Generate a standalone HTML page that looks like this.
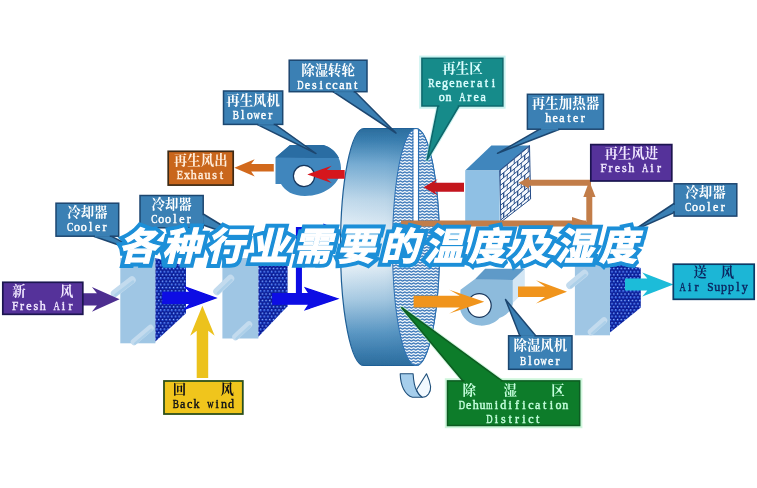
<!DOCTYPE html>
<html><head><meta charset="utf-8"><title>diagram</title>
<style>
html,body{margin:0;padding:0;background:#fff;}
body{width:757px;height:488px;overflow:hidden;}
svg{display:block;}
text{font-family:"Liberation Serif",serif;}
text.cjk{font-family:"Liberation Serif","Noto Serif CJK SC",serif;font-weight:bold;font-size:13.4px;}
text.ttl{font-family:"Liberation Sans","Noto Sans CJK SC",sans-serif;font-weight:bold;font-style:italic;font-size:38px;}
</style></head><body>
<svg width="757" height="488" viewBox="0 0 757 488" role="img" aria-label="各种行业需要的温度及湿度 - desiccant dehumidifier airflow diagram">
<defs><filter id="soft" x="-2%" y="-2%" width="104%" height="104%"><feGaussianBlur stdDeviation="0.4"/></filter></defs>
<g filter="url(#soft)">
<defs>
<linearGradient id="drumg" x1="0" y1="0" x2="0" y2="1">
 <stop offset="0" stop-color="#2a6c9c"/><stop offset="0.05" stop-color="#3b7fb0"/>
 <stop offset="0.15" stop-color="#78add3"/><stop offset="0.3" stop-color="#c0d9eb"/>
 <stop offset="0.45" stop-color="#eef5fa"/><stop offset="0.58" stop-color="#e6f0f7"/>
 <stop offset="0.72" stop-color="#a9cbe3"/><stop offset="0.86" stop-color="#5c98c4"/>
 <stop offset="0.95" stop-color="#3a7bac"/><stop offset="1" stop-color="#2c6c9c"/>
</linearGradient>
<linearGradient id="drumh" x1="0" y1="0" x2="1" y2="0">
 <stop offset="0" stop-color="#2d72a6" stop-opacity="0"/><stop offset="0.45" stop-color="#2d72a6" stop-opacity="0.05"/>
 <stop offset="1" stop-color="#2d72a6" stop-opacity="0.38"/>
</linearGradient>
<pattern id="wave" width="4.4" height="3" patternUnits="userSpaceOnUse">
 <rect width="4.4" height="3" fill="#f3f8fc"/>
 <path d="M-0.6,0.3 L0,0.75 L2.2,2.3 L4.4,0.75 L5,0.3" fill="none" stroke="#2f6fb5" stroke-width="1.05" stroke-linejoin="round"/>
</pattern>
<radialGradient id="sph" cx="0.36" cy="0.34" r="0.7">
 <stop offset="0" stop-color="#b4ccff"/><stop offset="0.3" stop-color="#325fe0"/><stop offset="1" stop-color="#0c24a4"/>
</radialGradient>
<pattern id="dots" width="3.7" height="6.4" patternUnits="userSpaceOnUse">
 <rect width="3.7" height="6.4" fill="#061080"/>
 <circle cx="0" cy="0" r="1.6" fill="url(#sph)"/><circle cx="3.7" cy="0" r="1.6" fill="url(#sph)"/>
 <circle cx="1.85" cy="3.2" r="1.6" fill="url(#sph)"/>
 <circle cx="0" cy="6.4" r="1.6" fill="url(#sph)"/><circle cx="3.7" cy="6.4" r="1.6" fill="url(#sph)"/>
</pattern>
<pattern id="brick" width="7" height="10" patternUnits="userSpaceOnUse" patternTransform="translate(499.7 170.4) skewY(-39.8)">
 <rect width="7" height="10" fill="#f6f9fd"/>
 <path d="M0,0.5H7M0,5.5H7M0.5,0.5V5.5M4,5.5V10.5" fill="none" stroke="#234a86" stroke-width="1.1"/>
</pattern>
</defs>
<path d="M364.0,128.5 L416.0,128.5 A23.5,118.5 0 0 1 416.0,365.5 L364.0,365.5 A23.5,118.5 0 0 1 364.0,128.5 Z" fill="url(#drumg)" stroke="#1f5f96" stroke-width="1.2"/>
<path d="M364.0,128.5 L416.0,128.5 A23.5,118.5 0 0 1 416.0,365.5 L364.0,365.5 A23.5,118.5 0 0 1 364.0,128.5 Z" fill="url(#drumh)"/>
<ellipse cx="416.0" cy="247.0" rx="23.5" ry="118.5" fill="url(#wave)" stroke="#2b6fb3" stroke-width="1"/>
<path d="M413,129 L413,226 M418.5,129 L418.5,226" stroke="#2b6fb3" stroke-width="1.2" fill="none"/>
<rect x="413.6" y="129.5" width="4.3" height="96" fill="#fff"/>
<path d="M400.2,373.7 L413.1,373.7 C413.5,381 414.5,387 417,391.5 C418.5,394 420,396 422.5,397.3 L412.5,397.3 C405,395 400.5,386 400.2,373.7 Z" fill="#a6ceec" stroke="#1f4f7a" stroke-width="1.1" stroke-linejoin="round"/>
<path d="M426.5,373.8 L416.5,389.8 C418,393.5 420,396 422.5,397.3 C427.5,397.3 431,392 430.6,386.5 C430,382 428.5,378 426.5,373.8 Z" fill="#f2f9ff" stroke="#1f4f7a" stroke-width="1.1" stroke-linejoin="round"/>
<rect x="120.3" y="258.0" width="35.1" height="85.3" fill="#9fc6e4" stroke="none" stroke-width="0.0" /><line x1="114.5" y1="293.5" x2="132.0" y2="280.0" stroke="#c3dbee" stroke-width="7.5" stroke-linecap="round"/><line x1="115.5" y1="295.1" x2="133.0" y2="281.6" stroke="#add0e9" stroke-width="2.6" stroke-linecap="round"/><line x1="134.0" y1="342.0" x2="150.5" y2="328.0" stroke="#c3dbee" stroke-width="6.5" stroke-linecap="round"/><line x1="135.0" y1="343.6" x2="151.5" y2="329.6" stroke="#add0e9" stroke-width="2.3" stroke-linecap="round"/><polygon points="155.4,258.0 186.0,266.0 186.0,313.3 155.4,341.5" fill="url(#dots)" stroke="none" stroke-width="1.0" stroke-linejoin="round" />
<rect x="222.4" y="258.0" width="36.0" height="80.5" fill="#9fc6e4" stroke="none" stroke-width="0.0" /><line x1="217.0" y1="291.5" x2="230.5" y2="278.5" stroke="#c3dbee" stroke-width="7.5" stroke-linecap="round"/><line x1="218.0" y1="293.1" x2="231.5" y2="280.1" stroke="#add0e9" stroke-width="2.6" stroke-linecap="round"/><line x1="235.5" y1="337.0" x2="249.0" y2="324.5" stroke="#c3dbee" stroke-width="6.5" stroke-linecap="round"/><line x1="236.5" y1="338.6" x2="250.0" y2="326.1" stroke="#add0e9" stroke-width="2.3" stroke-linecap="round"/><polygon points="258.4,258.0 287.6,266.0 287.6,306.2 258.4,336.8" fill="url(#dots)" stroke="none" stroke-width="1.0" stroke-linejoin="round" />
<rect x="574.9" y="262.0" width="35.1" height="73.3" fill="#9fc6e4" stroke="none" stroke-width="0.0" /><line x1="570.0" y1="285.3" x2="584.5" y2="273.5" stroke="#c3dbee" stroke-width="7.5" stroke-linecap="round"/><line x1="571.0" y1="286.9" x2="585.5" y2="275.1" stroke="#add0e9" stroke-width="2.6" stroke-linecap="round"/><line x1="591.0" y1="332.0" x2="604.0" y2="320.5" stroke="#c3dbee" stroke-width="6.5" stroke-linecap="round"/><line x1="592.0" y1="333.6" x2="605.0" y2="322.1" stroke="#add0e9" stroke-width="2.3" stroke-linecap="round"/><polygon points="610.0,262.0 640.8,267.9 640.8,307.6 610.0,332.4" fill="url(#dots)" stroke="none" stroke-width="1.0" stroke-linejoin="round" />
<path d="M275.5,157.5 L290,145 L323.5,145 C334,148 341,158 341,168 C341,184 324,196 305,196 C293,196 285,191 281,184 L275.5,184 Z" fill="#3f86bd"/>
<path d="M275.5,157.5 L290,145 L323.5,145 C331,147 336,152 339,158 L312,158 Z" fill="#2c6da3"/>
<circle cx="304" cy="176" r="10.6" fill="#fff" stroke="#16365c" stroke-width="1.2"/>
<polygon points="512.8,279.9 524.8,268.7 524.8,291.0 512.8,303.0" fill="#d3e6f4" stroke="none" stroke-width="1.0" stroke-linejoin="round" />
<path d="M474.7,279.2 L512.8,279.9 L512.8,304 C511,311 506,316 499.5,318 C495,323 488,326 479.9,325.6 C468.5,325 459.7,316 459.7,305.4 L460.5,289.7 Z" fill="#8dbbdc"/>
<polygon points="474.7,279.4 485.1,268.7 524.8,268.7 512.8,280.0" fill="#5f9ac8" stroke="none" stroke-width="1.0" stroke-linejoin="round" />
<circle cx="479.3" cy="305.5" r="11.9" fill="#fff" stroke="#16365c" stroke-width="1.2"/>
<polygon points="465.2,170.4 491.4,145.5 529.5,145.5 499.7,170.4" fill="#3f86bd" stroke="none" stroke-width="1.0" stroke-linejoin="round" />
<rect x="465.2" y="170.4" width="34.5" height="51.6" fill="#8fc0e4" stroke="none" stroke-width="0.0" />
<polygon points="499.7,170.4 529.5,145.5 530.6,199.0 500.9,222.0" fill="url(#brick)" stroke="#234a86" stroke-width="1.0" stroke-linejoin="round" />
<path d="M401,223.5 H586" stroke="#c27d48" stroke-width="6" fill="none"/>
<polygon points="572.0,217.0 592.0,223.5 572.0,230.0" fill="#c27d48" stroke="none" stroke-width="1.0" stroke-linejoin="round" />
<path d="M589.3,226.5 V192" stroke="#c27d48" stroke-width="6" fill="none"/>
<polygon points="583.3,197.0 589.3,181.0 595.5,197.0" fill="#c27d48" stroke="none" stroke-width="1.0" stroke-linejoin="round" />
<path d="M591,182.8 H526" stroke="#c27d48" stroke-width="6" fill="none"/>
<polygon points="518.7,182.8 529.0,177.2 529.0,188.4" fill="#c27d48" stroke="none" stroke-width="1.0" stroke-linejoin="round" />
<polygon points="83.0,293.2 96.9,293.2 91.9,286.9 119.6,299.3 91.9,311.7 96.9,305.4 83.0,305.4" fill="#4d2f90" stroke="none" stroke-width="1.0" stroke-linejoin="round" />
<polygon points="162.2,291.8 189.0,291.8 183.0,285.4 217.7,297.9 183.0,310.4 189.0,304.0 162.2,304.0" fill="#0707e4" stroke="none" stroke-width="1.0" stroke-linejoin="round" />
<path d="M298.9,299 V230 H326" stroke="#0707e4" stroke-width="6" fill="none"/>
<polygon points="323.4,223.6 338.0,230.0 323.4,236.4" fill="#0707e4" stroke="none" stroke-width="1.0" stroke-linejoin="round" />
<polygon points="272.2,292.9 307.9,292.9 303.9,286.8 339.5,298.8 303.9,310.8 307.9,304.8 272.2,304.8" fill="#0707e4" stroke="none" stroke-width="1.0" stroke-linejoin="round" />
<polygon points="196.7,378.0 196.7,330.7 190.2,335.7 202.4,305.7 214.7,335.7 208.2,330.7 208.2,378.0" fill="#ecc21f" stroke="none" stroke-width="1.0" stroke-linejoin="round" />
<polygon points="413.6,295.8 459.8,295.8 449.3,289.8 484.3,301.7 449.3,313.6 459.8,307.6 413.6,307.6" fill="#f0941a" stroke="none" stroke-width="1.0" stroke-linejoin="round" />
<polygon points="518.0,286.6 545.0,286.6 536.0,280.2 567.0,291.8 536.0,303.4 545.0,297.1 518.0,297.1" fill="#f0941a" stroke="none" stroke-width="1.0" stroke-linejoin="round" />
<polygon points="625.0,278.4 647.3,278.4 642.3,272.6 673.5,284.5 642.3,296.4 647.3,290.6 625.0,290.6" fill="#1cbcd9" stroke="none" stroke-width="1.0" stroke-linejoin="round" />
<polygon points="344.7,170.1 326.7,170.1 331.7,165.8 307.3,174.4 331.7,183.0 326.7,178.7 344.7,178.7" fill="#d5141c" stroke="none" stroke-width="1.0" stroke-linejoin="round" />
<polygon points="464.0,182.7 434.6,182.7 437.6,178.9 423.6,187.2 437.6,195.5 434.6,191.7 464.0,191.7" fill="#c4121f" stroke="none" stroke-width="1.0" stroke-linejoin="round" />
<polygon points="273.8,164.0 251.2,164.0 254.7,159.2 234.3,167.8 254.7,176.4 251.2,171.6 273.8,171.6" fill="#d2691e" stroke="none" stroke-width="1.0" stroke-linejoin="round" />
<polygon points="333.0,91.7 396.0,133.0 355.0,91.7" fill="#3a80b4" stroke="#1d4670" stroke-width="1.5" stroke-linejoin="round" /><rect x="289.2" y="60.2" width="77.8" height="31.5" fill="#3a80b4" stroke="#1d4670" stroke-width="1.5" /><polygon points="334.4,91.7 353.6,91.7 353.6,89.7 334.4,89.7" fill="#3a80b4" stroke="none" stroke-width="1.0" stroke-linejoin="round" /><polygon points="334.4,91.7 353.6,91.7 353.6,92.9 334.4,92.9" fill="#3a80b4" stroke="none" stroke-width="1.0" stroke-linejoin="round" /><text class="cjk" fill="#fff" x="301.23 314.68 328.12 341.57" y="74.5">除湿转轮</text><g text-anchor="middle" font-size="13.40" fill="#fff" stroke="#fff" stroke-width="0.45"><text transform="scale(0.65 1)" x="462.31" y="88.7">D</text><text transform="scale(0.90 1)" x="341.56 349.22 356.89 364.56 372.22 379.89 387.56 395.22" y="88.7">esiccant</text></g>
<polygon points="257.0,124.4 316.0,153.5 275.0,124.4" fill="#3a80b4" stroke="#1d4670" stroke-width="1.5" stroke-linejoin="round" /><rect x="223.5" y="91.0" width="59.2" height="33.4" fill="#3a80b4" stroke="#1d4670" stroke-width="1.5" /><polygon points="258.4,124.4 273.6,124.4 273.6,122.4 258.4,122.4" fill="#3a80b4" stroke="none" stroke-width="1.0" stroke-linejoin="round" /><polygon points="258.4,124.4 273.6,124.4 273.6,125.6 258.4,125.6" fill="#3a80b4" stroke="none" stroke-width="1.0" stroke-linejoin="round" /><text class="cjk" fill="#fff" x="226.22 239.67 253.12 266.57" y="105.2">再生风机</text><g text-anchor="middle" font-size="13.40" fill="#fff" stroke="#fff" stroke-width="0.45"><text transform="scale(0.70 1)" x="336.93" y="119.4">B</text><text transform="scale(0.90 1)" x="269.72 277.39 292.72 300.39" y="119.4">loer</text><text transform="scale(0.65 1)" x="394.69" y="119.4">w</text></g>
<rect x="420.4" y="56.8" width="84.0" height="50.7" fill="none" stroke="#9fe8e4" stroke-width="2.4" opacity="0.55"/><polygon points="438.0,106.0 427.0,160.0 459.0,106.0" fill="none" stroke="#9fe8e4" stroke-width="3.6" stroke-linejoin="round" opacity="0.55"/><polygon points="438.0,106.0 427.0,160.0 459.0,106.0" fill="#178b8a" stroke="#0f686c" stroke-width="1.5" stroke-linejoin="round" /><rect x="421.9" y="58.3" width="81.0" height="47.7" fill="#178b8a" stroke="#0f686c" stroke-width="1.5" /><polygon points="439.4,106.0 457.6,106.0 457.6,104.0 439.4,104.0" fill="#178b8a" stroke="none" stroke-width="1.0" stroke-linejoin="round" /><polygon points="439.4,106.0 457.6,106.0 457.6,107.2 439.4,107.2" fill="#178b8a" stroke="none" stroke-width="1.0" stroke-linejoin="round" /><text class="cjk" fill="#dcffff" x="442.25 455.70 469.15" y="72.7">再生区</text><g text-anchor="middle" font-size="13.40" fill="#dcffff" stroke="#dcffff" stroke-width="0.45"><text transform="scale(0.70 1)" x="616.21" y="86.9">R</text><text transform="scale(0.90 1)" x="486.94 494.61 502.28 509.94 517.61 525.28 532.94 540.61 548.28" y="86.9">egenerati</text></g><g text-anchor="middle" font-size="13.40" fill="#dcffff" stroke="#dcffff" stroke-width="0.45"><text transform="scale(0.90 1)" x="490.78 498.44 521.44 529.11 536.78" y="101.3">onrea</text><text transform="scale(0.65 1)" x="711.38" y="101.3">A</text></g>
<polygon points="539.8,129.2 497.5,153.3 559.5,129.2" fill="#3a80b4" stroke="#1d4670" stroke-width="1.5" stroke-linejoin="round" /><rect x="527.4" y="94.3" width="76.1" height="34.9" fill="#3a80b4" stroke="#1d4670" stroke-width="1.5" /><polygon points="541.1,129.2 558.1,129.2 558.1,127.2 541.1,127.2" fill="#3a80b4" stroke="none" stroke-width="1.0" stroke-linejoin="round" /><polygon points="541.1,129.2 558.1,129.2 558.1,130.4 541.1,130.4" fill="#3a80b4" stroke="none" stroke-width="1.0" stroke-linejoin="round" /><text class="cjk" fill="#fff" x="531.85 545.30 558.75 572.20 585.65" y="108.3">再生加热器</text><g text-anchor="middle" font-size="13.40" fill="#fff" stroke="#fff" stroke-width="0.45"><text transform="scale(0.90 1)" x="609.11 616.78 624.44 632.11 639.78 647.44" y="122.5">heater</text></g>
<rect x="168.2" y="151.3" width="65.0" height="33.8" fill="#c9661c" stroke="#3e2a18" stroke-width="1.7" /><text class="cjk" fill="#ffeedd" x="173.82 187.27 200.72 214.17" y="165.1">再生风出</text><g text-anchor="middle" font-size="13.40" fill="#ffeedd" stroke="#ffeedd" stroke-width="0.45"><text transform="scale(0.77 1)" x="233.77" y="179.3">E</text><text transform="scale(0.90 1)" x="207.67 215.33 223.00 230.67 238.33 246.00" y="179.3">xhaust</text></g>
<rect x="590.8" y="144.6" width="81.0" height="36.4" fill="#55329a" stroke="#1a1650" stroke-width="1.7" /><text class="cjk" fill="#f1e8ff" x="604.42 617.88 631.33 644.78" y="158.3">再生风进</text><g text-anchor="middle" font-size="13.40" fill="#f1e8ff" stroke="#f1e8ff" stroke-width="0.45"><text transform="scale(0.85 1)" x="710.24" y="172.5">F</text><text transform="scale(0.90 1)" x="678.44 686.11 693.78 701.44 724.44 732.11" y="172.5">reshir</text><text transform="scale(0.65 1)" x="992.46" y="172.5">A</text></g>
<polygon points="674.1,203.5 632.5,231.0 674.1,212.6" fill="#3a80b4" stroke="#1d4670" stroke-width="1.5" stroke-linejoin="round" /><rect x="674.1" y="183.8" width="62.7" height="32.3" fill="#3a80b4" stroke="#1d4670" stroke-width="1.5" /><polygon points="674.1,204.8 674.1,211.2 676.1,211.2 676.1,204.8" fill="#3a80b4" stroke="none" stroke-width="1.0" stroke-linejoin="round" /><polygon points="674.1,204.8 674.1,211.2 672.9,211.2 672.9,204.8" fill="#3a80b4" stroke="none" stroke-width="1.0" stroke-linejoin="round" /><text class="cjk" fill="#fff" x="685.30 698.75 712.20" y="197.2">冷却器</text><g text-anchor="middle" font-size="13.40" fill="#fff" stroke="#fff" stroke-width="0.45"><text transform="scale(0.70 1)" x="983.14" y="211.4">C</text><text transform="scale(0.90 1)" x="772.33 780.00 787.67 795.33 803.00" y="211.4">ooler</text></g>
<polygon points="93.6,236.2 150.0,256.0 111.0,236.2" fill="#3a80b4" stroke="#1d4670" stroke-width="1.5" stroke-linejoin="round" /><rect x="56.0" y="203.2" width="62.7" height="33.0" fill="#3a80b4" stroke="#1d4670" stroke-width="1.5" /><polygon points="94.9,236.2 109.7,236.2 109.7,234.2 94.9,234.2" fill="#3a80b4" stroke="none" stroke-width="1.0" stroke-linejoin="round" /><polygon points="94.9,236.2 109.7,236.2 109.7,237.4 94.9,237.4" fill="#3a80b4" stroke="none" stroke-width="1.0" stroke-linejoin="round" /><text class="cjk" fill="#fff" x="67.20 80.65 94.10" y="216.7">冷却器</text><g text-anchor="middle" font-size="13.40" fill="#fff" stroke="#fff" stroke-width="0.45"><text transform="scale(0.70 1)" x="100.14" y="230.9">C</text><text transform="scale(0.90 1)" x="85.56 93.22 100.89 108.56 116.22" y="230.9">ooler</text></g>
<polygon points="203.2,214.0 246.0,240.0 203.2,225.0" fill="#3a80b4" stroke="#1d4670" stroke-width="1.5" stroke-linejoin="round" /><rect x="140.0" y="195.5" width="63.2" height="32.3" fill="#3a80b4" stroke="#1d4670" stroke-width="1.5" /><polygon points="203.2,215.3 203.2,223.7 201.2,223.7 201.2,215.3" fill="#3a80b4" stroke="none" stroke-width="1.0" stroke-linejoin="round" /><polygon points="203.2,215.3 203.2,223.7 204.4,223.7 204.4,215.3" fill="#3a80b4" stroke="none" stroke-width="1.0" stroke-linejoin="round" /><text class="cjk" fill="#fff" x="151.45 164.90 178.35" y="208.9">冷却器</text><g text-anchor="middle" font-size="13.40" fill="#fff" stroke="#fff" stroke-width="0.45"><text transform="scale(0.70 1)" x="220.50" y="223.1">C</text><text transform="scale(0.90 1)" x="179.17 186.83 194.50 202.17 209.83" y="223.1">ooler</text></g>
<rect x="2.8" y="282.3" width="80.0" height="32.0" fill="#55329a" stroke="#1a1650" stroke-width="1.7" /><text class="cjk" fill="#f1e8ff" x="12.25 59.95" y="296.3">新风</text><g text-anchor="middle" font-size="13.40" fill="#f1e8ff" stroke="#f1e8ff" stroke-width="0.45"><text transform="scale(0.85 1)" x="17.88" y="310.5">F</text><text transform="scale(0.90 1)" x="24.56 32.22 39.89 47.56 70.56 78.22" y="310.5">reshir</text><text transform="scale(0.65 1)" x="87.08" y="310.5">A</text></g>
<rect x="164.0" y="381.0" width="78.8" height="33.0" fill="#f0c51f" stroke="#2c4f1a" stroke-width="1.8" /><text class="cjk" fill="#0c0f14" x="172.85 220.55" y="394.1">回风</text><g text-anchor="middle" font-size="13.40" fill="#0c0f14" stroke="#0c0f14" stroke-width="0.45"><text transform="scale(0.70 1)" x="251.14" y="408.3">B</text><text transform="scale(0.90 1)" x="203.00 210.67 218.33 241.33 249.00 256.67" y="408.3">ackind</text><text transform="scale(0.65 1)" x="323.54" y="408.3">w</text></g>
<polygon points="519.8,335.8 505.5,299.4 535.7,335.8" fill="#3a80b4" stroke="#1d4670" stroke-width="1.5" stroke-linejoin="round" /><rect x="508.6" y="335.8" width="63.4" height="33.5" fill="#3a80b4" stroke="#1d4670" stroke-width="1.5" /><polygon points="521.1,335.8 534.4,335.8 534.4,337.8 521.1,337.8" fill="#3a80b4" stroke="none" stroke-width="1.0" stroke-linejoin="round" /><polygon points="521.1,335.8 534.4,335.8 534.4,334.6 521.1,334.6" fill="#3a80b4" stroke="none" stroke-width="1.0" stroke-linejoin="round" /><text class="cjk" fill="#fff" x="513.42 526.88 540.33 553.78" y="350.4">除湿风机</text><g text-anchor="middle" font-size="13.40" fill="#fff" stroke="#fff" stroke-width="0.45"><text transform="scale(0.70 1)" x="747.21" y="364.6">B</text><text transform="scale(0.90 1)" x="588.83 596.50 611.83 619.50" y="364.6">loer</text><text transform="scale(0.65 1)" x="836.54" y="364.6">w</text></g>
<rect x="446.0" y="379.4" width="135.2" height="47.6" fill="none" stroke="#a8efc0" stroke-width="2.4" opacity="0.55"/><polygon points="463.0,380.9 401.7,307.7 502.0,380.9" fill="none" stroke="#a8efc0" stroke-width="3.6" stroke-linejoin="round" opacity="0.55"/><polygon points="463.0,380.9 401.7,307.7 502.0,380.9" fill="#0e7b2b" stroke="#0a5c20" stroke-width="1.5" stroke-linejoin="round" /><rect x="447.5" y="380.9" width="132.2" height="44.6" fill="#0e7b2b" stroke="#0a5c20" stroke-width="1.5" /><polygon points="464.4,380.9 500.6,380.9 500.6,382.9 464.4,382.9" fill="#0e7b2b" stroke="none" stroke-width="1.0" stroke-linejoin="round" /><polygon points="464.4,380.9 500.6,380.9 500.6,379.7 464.4,379.7" fill="#0e7b2b" stroke="none" stroke-width="1.0" stroke-linejoin="round" /><text class="cjk" fill="#c4ffdc" x="462.62 503.48 551.18" y="394.5">除湿区</text><g text-anchor="middle" font-size="13.40" fill="#c4ffdc" stroke="#c4ffdc" stroke-width="0.45"><text transform="scale(0.65 1)" x="710.54" y="408.7">D</text><text transform="scale(0.90 1)" x="520.83 528.50 536.17 551.50 559.17 566.83 574.50 582.17 589.83 597.50 605.17 612.83 620.50 628.17" y="408.7">ehuidification</text><text transform="scale(0.60 1)" x="815.75" y="408.7">m</text></g><g text-anchor="middle" font-size="13.40" fill="#c4ffdc" stroke="#c4ffdc" stroke-width="0.45"><text transform="scale(0.65 1)" x="753.00" y="423.1">D</text><text transform="scale(0.90 1)" x="551.50 559.17 566.83 574.50 582.17 589.83 597.50" y="423.1">istrict</text></g>
<rect x="673.3" y="264.2" width="80.9" height="35.1" fill="#1bb6d6" stroke="#0b3a66" stroke-width="1.7" /><text class="cjk" fill="#0a2660" x="693.48 720.63" y="276.7">送风</text><g text-anchor="middle" font-size="13.40" fill="#0a2660" stroke="#0a2660" stroke-width="0.45"><text transform="scale(0.65 1)" x="1050.31" y="290.9">A</text><text transform="scale(0.90 1)" x="766.22 773.89 796.89 804.56 812.22 819.89 827.56" y="290.9">irupply</text><text transform="scale(0.85 1)" x="835.65" y="290.9">S</text></g>
<text class="ttl" text-anchor="middle" fill="#1b8fd8" stroke="#1b8fd8" stroke-width="8.9" stroke-linejoin="miter" stroke-miterlimit="2.5" x="137.4 181.12 224.84 268.56 312.28 356 399.72 443.44 487.16 530.88 574.6 618.32" y="260">各种行业需要的温度及湿度</text>
<text class="ttl" text-anchor="middle" fill="#fff" stroke="#fff" stroke-width="1.1" stroke-linejoin="miter" x="137.4 181.12 224.84 268.56 312.28 356 399.72 443.44 487.16 530.88 574.6 618.32" y="260">各种行业需要的温度及湿度</text>
</g>
</svg>
</body></html>
